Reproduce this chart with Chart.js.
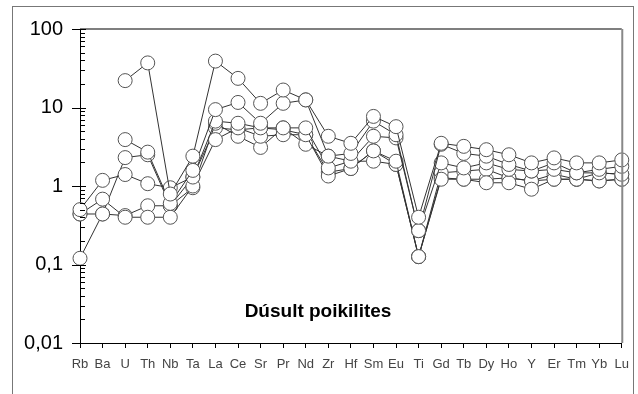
<!DOCTYPE html>
<html>
<head>
<meta charset="utf-8">
<script src="https://cdn.jsdelivr.net/npm/chart.js@4/dist/chart.umd.min.js"></script>
<style>
  html, body { margin: 0; padding: 0; background: #fff; }
  canvas { display: block; }
</style>
</head>
<body>
<canvas id="spider" width="638" height="394"></canvas>
<script>
// elemek (x tengely)
const elementLabels = ['Rb','Ba','U','Th','Nb','Ta','La','Ce','Sr','Pr','Nd','Zr','Hf','Sm','Eu','Ti','Gd','Tb','Dy','Ho','Y','Er','Tm','Yb','Lu'];

// normált koncentrációk mintánként
const sample1 = [null, null, 22, 37, 0.79, 2.4, 39, 23.5, 11.3, 16.7, 12.5, 4.3, 3.5, 7.7, 5.7, 0.40, 3.5, 3.2, 2.9, 2.5, 1.97, 2.28, 1.97, 1.97, 2.15];
const sample2 = [null, null, 3.9, 2.7, 0.60, 1.58, 9.4, 11.6, 6.3, 11.3, 12.5, 2.4, 2.6, 6.7, 4.5, 0.27, 3.4, 2.6, 2.4, 1.88, 1.55, 1.97, 1.47, 1.63, 1.78];
const sample3 = [0.50, 1.18, 1.4, 1.07, 0.95, 1.3, 6.7, 6.3, 5.5, 5.5, 5.5, 1.7, 2.07, 4.3, 4.1, 0.27, 1.97, 1.7, 1.97, 1.63, 1.55, 1.63, 1.47, 1.47, 1.41];
const sample4 = [0.44, 0.68, 0.40, 0.40, 0.40, 1.0, 3.9, 5.5, 4.3, 4.5, 4.5, 1.34, 1.67, 2.8, 2.07, 0.126, 1.22, 1.22, 1.1, 1.1, 0.91, 1.22, 1.22, 1.16, 1.22];
const sample5 = [0.12, 0.44, 2.3, 2.5, 0.56, 0.95, 6.3, 4.3, 3.1, 5.5, 3.4, 2.4, 2.07, 2.07, 1.88, 0.126, 1.47, 1.55, 1.63, 1.27, 1.16, 1.41, 1.22, 1.47, 1.41];
const sample6 = [0.44, 0.44, 0.42, 0.56, 0.56, 1.3, 5.5, 5.2, 5.5, 5.2, 4.5, 1.5, 1.67, 2.8, 1.88, 0.126, 1.27, 1.22, 1.22, 1.27, 1.16, 1.22, 1.22, 1.16, 1.22];

const samples = [sample1, sample2, sample3, sample4, sample5, sample6];
const yTicks = [0.01, 0.1, 1, 10, 100];

const chartTitle = 'Dúsult poikilites';

// keret, log osztások és felirat
const framePlugin = {
    id: 'frame',
    beforeDraw(chart) {
        const ctx = chart.ctx;
        ctx.save();
        ctx.fillStyle = '#fff';
        ctx.fillRect(0, 0, chart.width, chart.height);
        ctx.strokeStyle = '#777';
        ctx.lineWidth = 1;
        ctx.strokeRect(12.5, 6.5, 621, 400);
        ctx.restore();
    },
    afterDraw(chart) {
        const ctx = chart.ctx;
        const area = chart.chartArea;
        const y = chart.scales.y;
        ctx.save();
        // felső és jobb oldali keretvonal
        ctx.strokeStyle = '#555';
        ctx.lineWidth = 1.5;
        ctx.beginPath();
        ctx.moveTo(area.left, area.top);
        ctx.lineTo(area.right, area.top);
        ctx.stroke();
        ctx.strokeStyle = '#888';
        ctx.lineWidth = 2;
        ctx.beginPath();
        ctx.moveTo(area.right + 0.5, area.top);
        ctx.lineTo(area.right + 0.5, area.bottom);
        ctx.stroke();
        // y tengely osztások
        ctx.strokeStyle = '#000';
        ctx.lineWidth = 1;
        yTicks.forEach((dec, i) => {
            const py = Math.round(y.getPixelForValue(dec)) + 0.5;
            ctx.beginPath();
            ctx.moveTo(area.left - 8, py);
            ctx.lineTo(area.left + 6, py);
            ctx.stroke();
            if (i < yTicks.length - 1) {
                for (let m = 2; m <= 9; m++) {
                    const pm = Math.round(y.getPixelForValue(dec * m)) + 0.5;
                    ctx.beginPath();
                    ctx.moveTo(area.left, pm);
                    ctx.lineTo(area.left + 5, pm);
                    ctx.stroke();
                }
            }
        });
        // felirat
        ctx.fillStyle = '#000';
        ctx.font = 'bold 19px "Liberation Sans", Arial, sans-serif';
        ctx.textAlign = 'center';
        ctx.textBaseline = 'middle';
        ctx.fillText(chartTitle, 318, 312);
        ctx.restore();
    }
};

const datasets = samples.map((s, i) => ({
    label: 'minta ' + (i + 1),
    data: s,
    borderColor: '#333',
    borderWidth: 1,
    pointRadius: 7,
    pointBackgroundColor: '#fff',
    pointBorderColor: '#555',
    pointBorderWidth: 1,
    tension: 0,
    spanGaps: false,
    clip: false
}));

new Chart(document.getElementById('spider'), {
    type: 'line',
    data: { labels: elementLabels, datasets: datasets },
    options: {
        responsive: false,
        animation: false,
        layout: { padding: { top: 27, right: 15.6, left: 0, bottom: 0 } },
        plugins: {
            legend: { display: false },
            tooltip: { enabled: false },
            title: { display: false }
        },
        scales: {
            x: {
                type: 'category',
                offset: false,
                border: { color: '#000', width: 1 },
                grid: { display: true, drawOnChartArea: false, tickLength: 5, color: '#000' },
                ticks: {
                    autoSkip: false,
                    maxRotation: 0,
                    padding: 9,
                    color: '#444',
                    font: { family: '"Liberation Sans", Arial, sans-serif', size: 13 }
                },
                afterFit(scale) { scale.height = 51; }
            },
            y: {
                type: 'logarithmic',
                min: 0.01,
                max: 100,
                border: { color: '#000', width: 1 },
                grid: { display: false, drawTicks: false },
                afterBuildTicks(scale) {
                    scale.ticks = yTicks.map(v => ({ value: v }));
                },
                ticks: {
                    padding: 17,
                    color: '#000',
                    font: { family: '"Liberation Sans", Arial, sans-serif', size: 20 },
                    callback: v => String(v).replace('.', ',')
                },
                afterFit(scale) { scale.width = 80; }
            }
        }
    },
    plugins: [framePlugin]
});
</script>
</body>
</html>
